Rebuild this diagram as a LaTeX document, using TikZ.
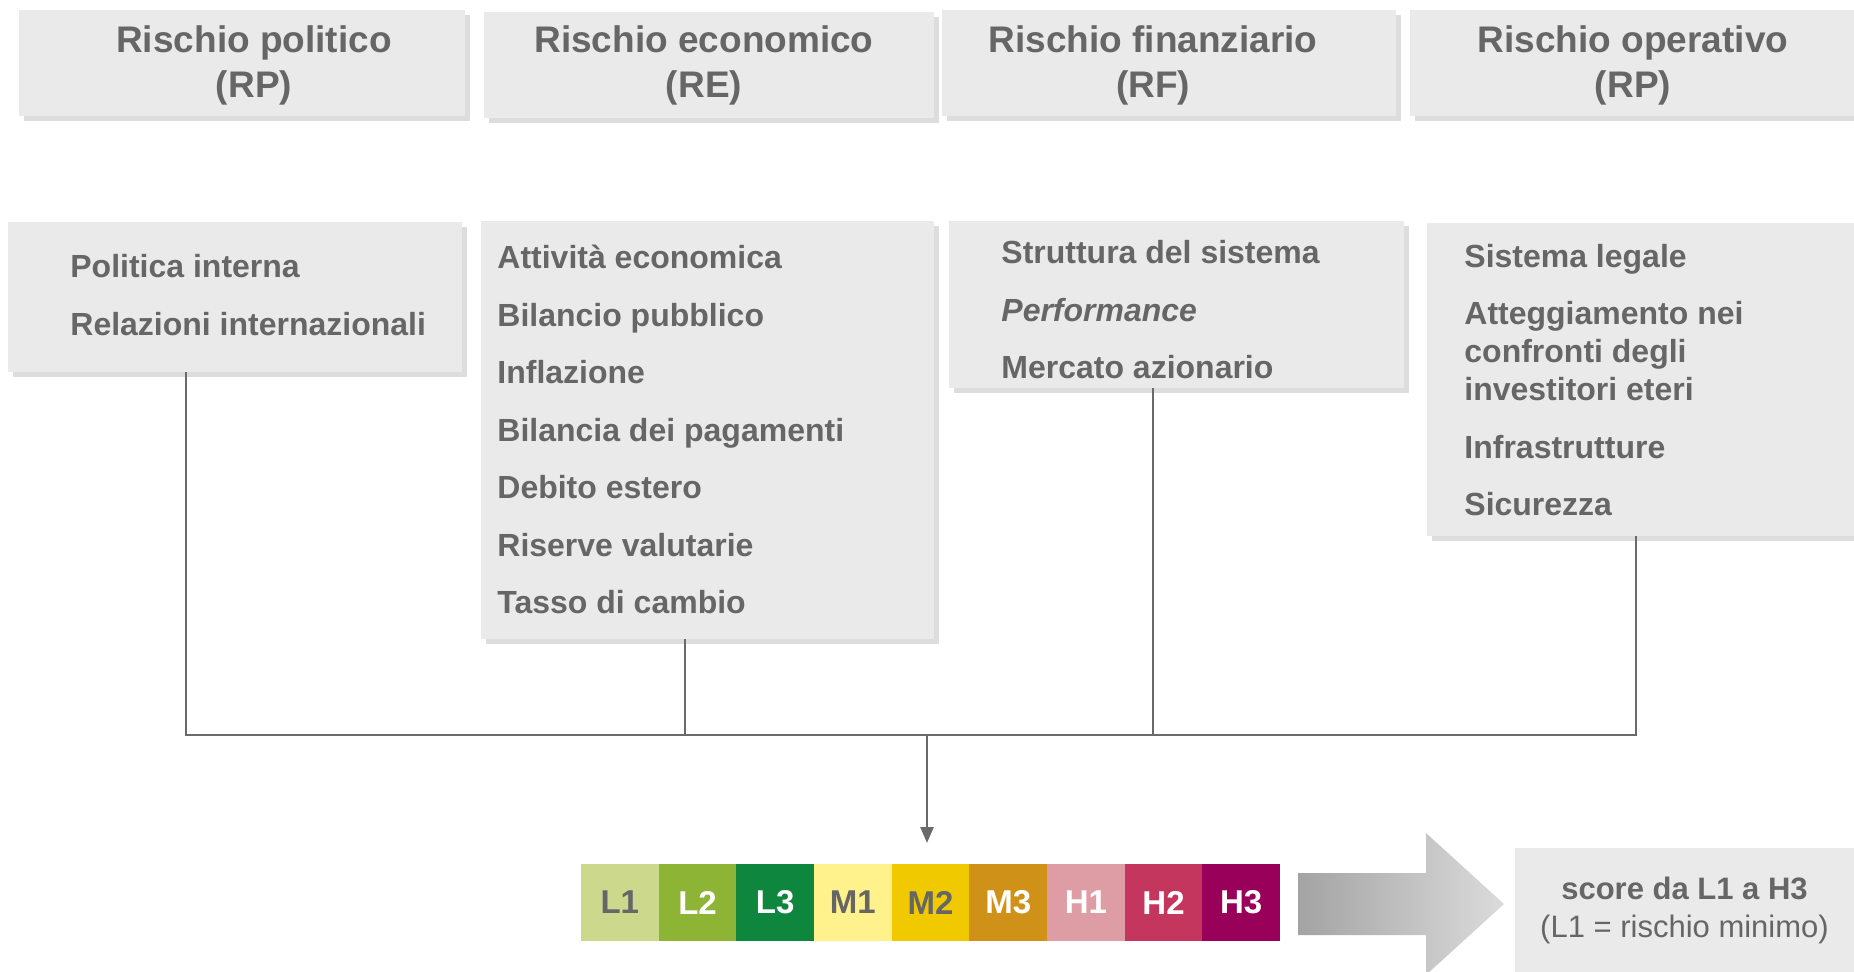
\documentclass[tikz,border=0pt]{standalone}
\usepackage{fontspec}
\setmainfont{Liberation Sans}
\usepackage{tikz}
\usetikzlibrary{positioning,arrows.meta,shadows}
\definecolor{boxgray}{HTML}{EAEAEA}
\definecolor{shadegray}{HTML}{DDDDDD}
\definecolor{txtgray}{HTML}{666666}
\definecolor{linegray}{HTML}{6A6A6A}
\definecolor{lone}{HTML}{CCD88B}
\definecolor{ltwo}{HTML}{8DB434}
\definecolor{lthree}{HTML}{0E863E}
\definecolor{mone}{HTML}{FFF18B}
\definecolor{mtwo}{HTML}{F1C900}
\definecolor{mthree}{HTML}{D09119}
\definecolor{hone}{HTML}{DE9CA5}
\definecolor{htwo}{HTML}{C5365F}
\definecolor{hthree}{HTML}{990059}

\begin{document}
\begin{tikzpicture}[x=0.5pt,y=-0.5pt]
	\tikzstyle{every node}+=[inner sep=0pt, text=txtgray]
	\tikzstyle{panel}=[fill=boxgray, drop shadow={shadow xshift=2.5pt, shadow yshift=-2.5pt, fill=shadegray, opacity=1}]
	\tikzstyle{head}=[font=\fontsize{18.5}{22.5}\selectfont\bfseries, align=center]
	\tikzstyle{item}=[font=\fontsize{16}{19}\selectfont\bfseries, align=left, anchor=west]
	\tikzstyle{cell}=[minimum width=38.9pt, minimum height=38.5pt, font=\fontsize{16.5}{18}\selectfont\bfseries]
	\tikzstyle{bus}=[draw=linegray, line width=1.3pt]
	\useasboundingbox (0,0) rectangle (1854,971);
	\clip (0,0) rectangle (1854,971);
	% header boxes
	\node [panel, minimum width=223pt, minimum height=53pt] (hpol) at (242,63) {};
	\node [panel, minimum width=225pt, minimum height=53pt] (heco) at (709,65) {};
	\node [panel, minimum width=227pt, minimum height=53pt] (hfin) at (1169,63) {};
	\node [panel, minimum width=225pt, minimum height=53pt] (hope) at (1635,63) {};
	\node [head] (tpol) at (254,65) {Rischio politico\\(RP)};
	\node [head] (teco) at (704,65) {Rischio economico\\(RE)};
	\node [head] (tfin) at (1153,65) {Rischio finanziario\\(RF)};
	\node [head] (tope) at (1633,65) {Rischio operativo\\(RP)};
	% factor boxes
	\node [panel, minimum width=227pt, minimum height=75pt] (bpol) at (235,297) {};
	\node [panel, minimum width=226.5pt, minimum height=209pt] (beco) at (707.5,430) {};
	\node [panel, minimum width=227.5pt, minimum height=83.5pt] (bfin) at (1176.5,304.5) {};
	\node [panel, minimum width=216.5pt, minimum height=156.5pt] (bope) at (1643.5,379.5) {};
	\node [item] (ipol) at (70,295) {Politica interna\\[9.75pt]Relazioni internazionali};
	\node [item] (ieco) at (497,429.5) {Attività economica\\[9.75pt]Bilancio pubblico\\[9.75pt]Inflazione\\[9.75pt]Bilancia dei pagamenti\\[9.75pt]Debito estero\\[9.75pt]Riserve valutarie\\[9.75pt]Tasso di cambio};
	\node [item] (ifin) at (1001,310) {Struttura del sistema\\[9.75pt]\textit{Performance}\\[9.75pt]Mercato azionario};
	\node [item] (iope) at (1464,380) {Sistema legale\\[9.75pt]Atteggiamento nei\\confronti degli\\investitori eteri\\[9.75pt]Infrastrutture\\[9.75pt]Sicurezza};
	% collecting lines
	\coordinate (jpol) at (186,735);
	\coordinate (jeco) at (685,735);
	\coordinate (jfin) at (1153,735);
	\coordinate (jope) at (1636,735);
	\coordinate (jout) at (927,735);
	\coordinate (tip) at (927,843);
	\draw [bus] (bpol.south -| jpol) -- (jpol) -- (jope) -- (bope.south -| jope);
	\draw [bus] (beco.south -| jeco) -- (jeco);
	\draw [bus] (bfin.south -| jfin) -- (jfin);
	\draw [bus, -{Triangle[width=6.5pt,length=8pt]}] (jout) -- (tip);
	% score scale
	\foreach \lab/\col/\txt [count=\i] in {L1/lone/txtgray, L2/ltwo/white, L3/lthree/white, M1/mone/txtgray, M2/mtwo/txtgray, M3/mthree/white, H1/hone/white, H2/htwo/white, H3/hthree/white}
		\node [cell, fill=\col, text=\txt] (\lab) at ({581+77.67*(\i-0.5)},902.5) {\lab};
	% big arrow
	\path [left color=black!36, right color=black!14] (1298,873) -- (1426,873) -- (1426,833) -- (1504,904) -- (1426,975) -- (1426,935) -- (1298,935) -- cycle;
	\node [fill=boxgray, minimum width=170pt, minimum height=62pt, align=center, font=\fontsize{15.5}{19}\selectfont] (score) at (1684.5,910) {\textbf{score da L1 a H3}\\(L1 = rischio minimo)};
\end{tikzpicture}
\end{document}
